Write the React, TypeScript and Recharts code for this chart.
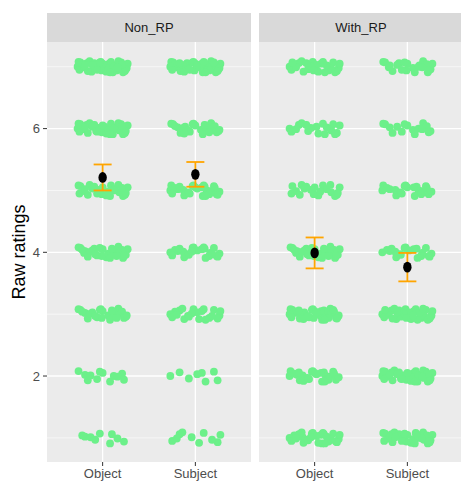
import { ScatterChart, Scatter, XAxis, YAxis, CartesianGrid, ErrorBar } from "recharts";

const conditions = ["Object", "Subject"];
const ratings = [7, 6, 5, 4, 3, 2, 1];

// responses per rating (7 -> 1), counted roughly from the dot clusters
const nonRpObject = [40, 32, 26, 28, 24, 12, 9];
const nonRpSubject = [40, 24, 28, 24, 22, 8, 10];
const withRpObject = [26, 18, 20, 28, 34, 26, 30];
const withRpSubject = [22, 16, 22, 20, 32, 34, 32];

// means and error bar half-widths (Object, Subject)
const nonRpMeans = [5.21, 5.26];
const nonRpErr = [0.21, 0.2];
const withRpMeans = [3.99, 3.76];
const withRpErr = [0.25, 0.23];

// jitter offsets, hand-placed (x in category units, y in rating units)
const jitterX = [
  -0.22, 0.15, -0.02, 0.26, -0.12, 0.07, -0.27, 0.2, -0.07, 0.11, 0.02, -0.17, 0.24, -0.25, 0.09,
  -0.04, 0.18, -0.14, 0.04, 0.27, -0.2, 0.13, -0.09, 0.22, -0.01, -0.24, 0.06, 0.17, -0.11, 0.25,
  -0.16, 0.0, 0.12, -0.06, 0.21, -0.26, 0.08, -0.19, 0.16, -0.03, 0.23, -0.13, 0.1, -0.08,
];
const jitterY = [
  0.04, -0.06, 0.08, -0.02, -0.08, 0.05, 0.0, 0.07, -0.04, -0.09, 0.03, 0.06, -0.07, -0.05, 0.08,
  0.01, -0.03, 0.09, -0.08, 0.05, -0.01, 0.02, 0.06, -0.09, -0.06, 0.07, -0.02, 0.09, 0.03, -0.04,
  -0.07, 0.05, 0.0, -0.05, 0.04, 0.08, -0.09, 0.02, -0.01, 0.07, -0.06, 0.01, 0.06, -0.03,
];

const GREEN = "#6CF08A";
const ORANGE = "#FFA500";
const FONT = "'Liberation Sans', Arial, sans-serif";

const TOP = 42;
const PLOT_H = 420;

function buildPoints(counts: number[][]) {
  const pts: { x: number; y: number }[] = [];
  counts.forEach((col, c) => {
    col.forEach((n, r) => {
      for (let k = 0; k < n; k++) {
        const j = (k + r * 6 + c * 19) % jitterX.length;
        pts.push({ x: c + 1 + jitterX[j], y: ratings[r] + jitterY[j] });
      }
    });
  });
  return pts;
}

const Dot = (p: any) => <circle cx={p.cx} cy={p.cy} r={3.9} fill={GREEN} />;
const MeanDot = (p: any) => <ellipse cx={p.cx} cy={p.cy} rx={4.2} ry={5.4} fill="#000" />;
const Empty = () => <g />;

function Panel({
  left,
  width,
  showY,
  counts,
  means,
  err,
}: {
  left: number;
  width: number;
  showY: boolean;
  counts: number[][];
  means: number[];
  err: number[];
}) {
  const points = buildPoints(counts);
  const meanData = conditions.map((_c, i) => ({ x: i + 1, y: means[i], err: err[i] }));
  const yw = showY ? 47 : 0;
  return (
    <div style={{ position: "absolute", left: left - yw, top: TOP }}>
      <ScatterChart width={width + yw} height={PLOT_H + 32} margin={{ top: 0, right: 0, bottom: 0, left: 0 }}>
        <CartesianGrid
          fill="#EBEBEB"
          stroke="#fff"
          strokeWidth={1.3}
          horizontalValues={[2, 4, 6]}
          verticalValues={[1, 2]}
        />
        <CartesianGrid stroke="#fff" strokeWidth={0.6} vertical={false} horizontalValues={[1, 3, 5, 7]} />
        <XAxis
          type="number"
          dataKey="x"
          domain={[0.4, 2.6]}
          ticks={[1, 2]}
          interval={0}
          allowDataOverflow
          tickFormatter={(v: number) => conditions[v - 1]}
          axisLine={false}
          tickSize={4}
          tickMargin={3}
          tickLine={{ stroke: "#333" }}
          tick={{ fill: "#4d4d4d", fontSize: 13, fontFamily: FONT }}
          height={32}
        />
        <YAxis
          type="number"
          dataKey="y"
          domain={[0.61, 7.4]}
          ticks={[2, 4, 6]}
          allowDataOverflow
          hide={!showY}
          width={yw}
          axisLine={false}
          tickSize={4}
          tickMargin={3}
          tickLine={{ stroke: "#333" }}
          tick={{ fill: "#4d4d4d", fontSize: 13, fontFamily: FONT }}
          label={{
            value: "Raw ratings",
            angle: -90,
            position: "insideLeft",
            offset: 19,
            style: { textAnchor: "middle", fontSize: 18, fill: "#000", fontFamily: FONT },
          }}
        />
        <Scatter data={points} shape={Dot} isAnimationActive={false} zIndex={600} />
        <Scatter data={meanData} shape={Empty} isAnimationActive={false} zIndex={700}>
          <ErrorBar dataKey="err" direction="y" width={9} stroke={ORANGE} strokeWidth={1.8} zIndex={700} />
        </Scatter>
        <Scatter data={meanData} shape={MeanDot} isAnimationActive={false} zIndex={800} />
      </ScatterChart>
    </div>
  );
}

function Strip({ left, width, title }: { left: number; width: number; title: string }) {
  return (
    <div
      style={{
        position: "absolute",
        left,
        top: 13,
        width,
        height: 29,
        background: "#D9D9D9",
        color: "#1a1a1a",
        fontFamily: FONT,
        fontSize: 13,
        lineHeight: "29px",
        textAlign: "center",
      }}
    >
      {title}
    </div>
  );
}

export default function App() {
  return (
    <div
      style={{
        position: "absolute",
        left: 0,
        top: 0,
        width: 461,
        height: 495,
        overflow: "hidden",
        background: "#fff",
      }}
    >
      <Strip left={47} width={204} title="Non_RP" />
      <Strip left={259} width={204} title="With_RP" />
      <Panel left={47} width={204} showY counts={[nonRpObject, nonRpSubject]} means={nonRpMeans} err={nonRpErr} />
      <Panel left={259} width={204} showY={false} counts={[withRpObject, withRpSubject]} means={withRpMeans} err={withRpErr} />
    </div>
  );
}
